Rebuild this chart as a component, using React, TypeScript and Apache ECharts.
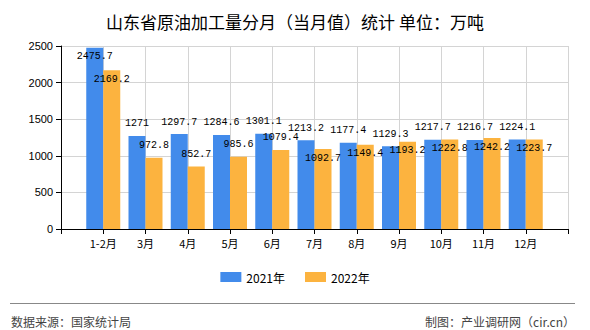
import React, { useEffect, useRef } from "react";
import * as echarts from "echarts";

const categories = ["1-2月", "3月", "4月", "5月", "6月", "7月", "8月", "9月", "10月", "11月", "12月"];
const values2021 = [2475.7, 1271, 1297.7, 1284.6, 1301.1, 1213.2, 1177.4, 1129.3, 1217.7, 1216.7, 1224.1];
const values2022 = [2169.2, 972.8, 852.7, 985.6, 1079.4, 1092.7, 1149.4, 1193.2, 1222.8, 1242.2, 1223.7];
const seriesNames = ["2021年", "2022年"];
const yTicks = { min: 0, max: 2500, interval: 500 };

const title = "山东省原油加工量分月（当月值）统计 单位：万吨";
const sourceText = "数据来源：国家统计局";
const creditText = "制图：产业调研网（cir.cn）";

const BLUE = "#428BEB";
const ORANGE = "#FCB33F";
const labelFont = "'Liberation Mono', 'DejaVu Sans Mono', monospace";

export default function App() {
  const ref = useRef<HTMLDivElement>(null);
  useEffect(() => {
    if (!ref.current) return;
    const chart = echarts.init(ref.current, null, { renderer: "svg" });
    const insideBlue = new Set([0]);
    const insideOrange = new Set([0, 5, 6, 7, 8, 9, 10]);
    // axis padded with an empty slot on each side (ticks sit on category points)
    const axisCats = ["", ...categories, ""];
    const mkData = (vals: number[], inside: Set<number>) => [
      null,
      ...vals.map((v, i) => ({
        value: v,
        label: inside.has(i) ? { position: "insideTop", distance: 3 } : { position: "top", distance: 6 },
      })),
      null,
    ];
    const labelStyle = {
      show: true,
      color: "#000",
      fontSize: 10,
      lineHeight: 12,
      fontFamily: labelFont,
    };
    chart.setOption({
      animation: false,
      backgroundColor: "#fff",
      title: {
        text: title,
        left: "center",
        top: 8,
        textStyle: { fontSize: 17, fontWeight: "normal", color: "#000", fontFamily: "'Noto Sans CJK SC', sans-serif" },
      },
      legend: {
        bottom: 42,
        left: "center",
        itemWidth: 21,
        itemHeight: 10,
        itemGap: 20,
        icon: "rect",
        textStyle: { fontSize: 12, color: "#000", fontFamily: "'Noto Sans CJK SC', sans-serif" },
        data: seriesNames,
      },
      grid: { left: 61, right: 22, top: 46, bottom: 101 },
      xAxis: {
        type: "category",
        data: axisCats,
        boundaryGap: false,
        axisLine: { lineStyle: { color: "#000" } },
        axisTick: { show: true, lineStyle: { color: "#000" } },
        axisLabel: { color: "#000", fontSize: 11, margin: 8, interval: 0, fontFamily: "'Noto Sans CJK SC', sans-serif" },
        splitLine: { show: true, lineStyle: { color: "#d4d4d4" } },
      },
      yAxis: {
        type: "value",
        min: yTicks.min,
        max: yTicks.max,
        interval: yTicks.interval,
        axisLine: { show: true, lineStyle: { color: "#000" } },
        axisTick: { show: true, lineStyle: { color: "#000" } },
        axisLabel: {
          color: "#000",
          fontSize: 11,
          fontFamily: "'Liberation Sans', sans-serif",
          formatter: (v: number) => String(v),
        },
        splitLine: { show: true, lineStyle: { color: "#d4d4d4" } },
      },
      series: [
        {
          name: seriesNames[0],
          type: "bar",
          data: mkData(values2021, insideBlue),
          itemStyle: { color: BLUE },
          barWidth: 17,
          barGap: "0%",
          label: labelStyle,
        },
        {
          name: seriesNames[1],
          type: "bar",
          data: mkData(values2022, insideOrange),
          itemStyle: { color: ORANGE },
          barWidth: 17,
          barGap: "0%",
          label: labelStyle,
        },
      ],
      graphic: [
        { type: "line", shape: { x1: 10, y1: 303.5, x2: 575, y2: 303.5 }, style: { stroke: "#888", lineWidth: 1 } },
        {
          type: "text",
          left: 11,
          top: 315,
          style: { text: sourceText, fontSize: 12, fill: "#444", fontFamily: "'Noto Sans CJK SC', sans-serif" },
        },
        {
          type: "text",
          right: 15,
          top: 315,
          style: { text: creditText, fontSize: 12, fill: "#444", fontFamily: "'Noto Sans CJK SC', sans-serif" },
        },
      ],
    });
    return () => chart.dispose();
  }, []);
  return <div ref={ref} style={{ width: 590, height: 330, position: "absolute", left: 0, top: 0 }} />;
}
